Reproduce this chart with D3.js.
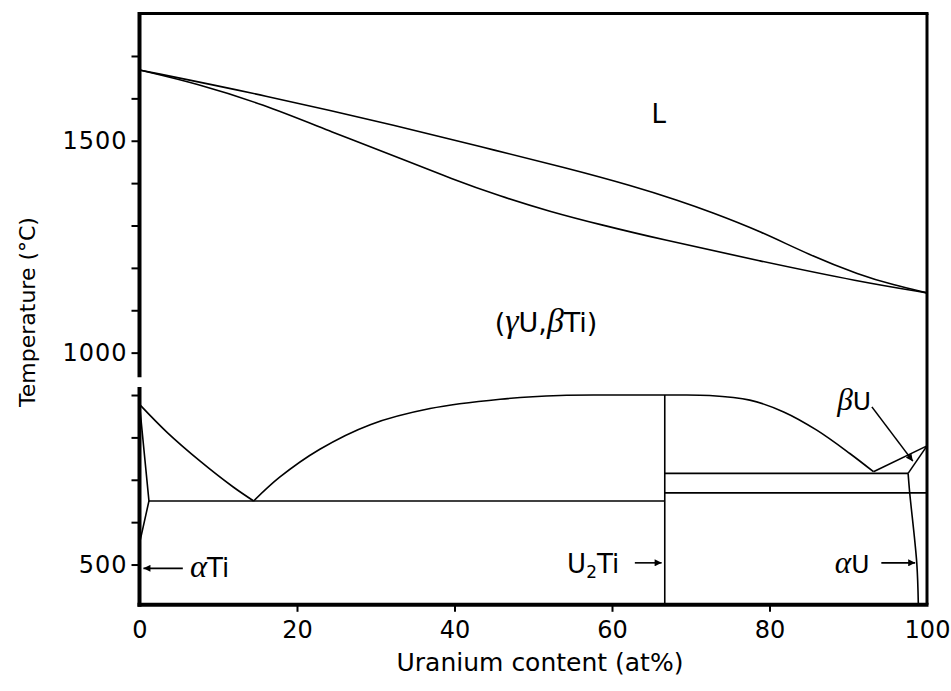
<!DOCTYPE html>
<html><head><meta charset="utf-8">
<script src="https://cdn.jsdelivr.net/npm/d3@7"></script>
<style>
html,body{margin:0;padding:0;background:#fff;}
text{fill:#000;}
</style>
</head><body>
<svg id="chart" width="951" height="691"></svg>
<script>
// ---- data (at% U, °C) ----
const liquidus = [[0,1667],[15.7,1608],[33.5,1532],[43.7,1484],[54.2,1436],[62.7,1393],[68.6,1358],[72.4,1333],[78.8,1287],[85.1,1230],[91.5,1183],[95.7,1160],[100,1141]];
const solidus = [[0,1667],[7.3,1635],[15.7,1586],[24.2,1522],[34.3,1450],[39.4,1412],[45.8,1369],[52.1,1333],[58.5,1302],[66.1,1268],[78.8,1216],[91.5,1167],[100,1141]];
const betaTiTransus = [[0,878],[3.5,812],[7.7,744],[11.9,683],[14.5,650]];
const dome = [[14.5,650],[17.8,706],[22.9,772],[29.3,830],[36.9,868],[45.8,890],[53.4,899],[60,900],[66.7,900],[72.4,899],[77.5,888],[81.8,860],[86,817],[90.2,762],[93.2,719]];
const alphaTiSolvus = [[0,878],[1.2,650],[0,550]];
const tiEutectoid = [[1.2,650],[66.7,650]];
const u2TiLine = [[66.7,900],[66.7,405]];
const betaUEutectoid = [[66.7,715],[97.6,715]];
const alphaUEutectoid = [[66.7,669],[100,669]];
const gammaUBoundary = [[93.2,719],[100,780]];
const betaUBoundary = [[100,780],[97.6,715]];
const alphaUSolvus = [[97.6,715],[97.8,670],[98.7,504],[98.9,405]];
const xTicks = [0,20,40,60,80,100];
const yMinorTicks = [500,600,700,800,900,1000,1100,1200,1300,1400,1500,1600,1700];
const yLabelTicks = [500,1000,1500];
// arrows: [from, to]
const arrows = [
  [[5.5,491],[0.5,491]],
  [[62.9,504],[66.3,504]],
  [[94.2,504],[98.5,504]],
  [[93.0,872],[98.2,744]]
];

const svg = d3.select("#chart");
const x = d3.scaleLinear().domain([0,100]).range([139.5,927]);
const y = d3.scaleLinear().domain([405,1800]).range([604.8,13.6]);

const sans = "'DejaVu Sans', 'Liberation Sans', sans-serif";
const serif = "'Liberation Serif', 'DejaVu Serif', serif";

svg.append("defs").append("marker")
  .attr("id","ah").attr("viewBox","0 0 10 10").attr("refX",10).attr("refY",5)
  .attr("markerWidth",9).attr("markerHeight",7).attr("markerUnits","userSpaceOnUse")
  .attr("orient","auto")
  .append("path").attr("d","M0,0 L10,5 L0,10 z").attr("fill","#000");

const lineSmooth = d3.line().x(d=>x(d[0])).y(d=>y(d[1])).curve(d3.curveMonotoneX);
const lineBasis = d3.line().x(d=>x(d[0])).y(d=>y(d[1])).curve(d3.curveBasis);
const lineCR = d3.line().x(d=>x(d[0])).y(d=>y(d[1])).curve(d3.curveCatmullRom.alpha(0.5));
const lineStraight = d3.line().x(d=>x(d[0])).y(d=>y(d[1]));

const g = svg.append("g").attr("fill","none").attr("stroke","#000").attr("stroke-width",1.6);
g.append("path").attr("d",lineBasis(liquidus));
g.append("path").attr("d",lineBasis(solidus));
g.append("path").attr("d",lineCR(betaTiTransus));
g.append("path").attr("d",lineCR(dome));
g.append("path").attr("d",lineCR(alphaUSolvus));
[alphaTiSolvus,tiEutectoid,u2TiLine,betaUEutectoid,alphaUEutectoid,gammaUBoundary,betaUBoundary]
  .forEach(s=>g.append("path").attr("d",lineStraight(s)));

// arrows
arrows.forEach(a=>{
  svg.append("line").attr("x1",x(a[0][0])).attr("y1",y(a[0][1]))
    .attr("x2",x(a[1][0])).attr("y2",y(a[1][1]))
    .attr("stroke","#000").attr("stroke-width",1.6).attr("marker-end","url(#ah)");
});

// frame
const fr = svg.append("g").attr("stroke","#000").attr("fill","none");
const x0=x(0), x1=x(100), yT=y(1800), yB=y(405);
fr.append("line").attr("x1",x0-1).attr("x2",x1+1.5).attr("y1",yT).attr("y2",yT).attr("stroke-width",3);
fr.append("line").attr("x1",x1).attr("x2",x1).attr("y1",yT).attr("y2",yB).attr("stroke-width",3);
fr.append("line").attr("x1",x0-2).attr("x2",x1+1.5).attr("y1",yB).attr("y2",yB).attr("stroke-width",4);
fr.append("line").attr("x1",x0).attr("x2",x0).attr("y1",yT-1.5).attr("y2",y(942)).attr("stroke-width",4);
fr.append("line").attr("x1",x0).attr("x2",x0).attr("y1",y(919)).attr("y2",yB+2).attr("stroke-width",4);

// y axis
const yAxis = d3.axisLeft(y).tickValues(yMinorTicks).tickSize(7).tickPadding(4)
  .tickFormat(d=>yLabelTicks.includes(d)?String(d):"");
const ya = svg.append("g").attr("transform",`translate(${x0-1},0)`).call(yAxis);
ya.select(".domain").remove();
ya.selectAll(".tick line").attr("stroke","#000").attr("stroke-width",2);
ya.selectAll(".tick text").attr("font-family",sans).attr("font-size",24).attr("fill","#000")
  .attr("letter-spacing",1);

// x axis
const xAxis = d3.axisBottom(x).tickValues(xTicks).tickSize(6).tickPadding(9).tickFormat(d=>String(d));
const xa = svg.append("g").attr("transform",`translate(0,${yB+1})`).call(xAxis);
xa.select(".domain").remove();
xa.selectAll(".tick line").attr("stroke","#000").attr("stroke-width",2)
  .attr("display",d=>(d===0||d===100)?"none":null);
xa.selectAll(".tick text").attr("font-family",sans).attr("font-size",24).attr("fill","#000");

// axis titles
svg.append("text").attr("x",540).attr("y",671).attr("text-anchor","middle")
  .attr("font-family",sans).attr("font-size",25).text("Uranium content (at%)");
svg.append("text").attr("transform",`translate(35,312) rotate(-90)`).attr("text-anchor","middle")
  .attr("font-family",sans).attr("font-size",22).text("Temperature (°C)");

// region labels
function label(px, T, size, parts){
  const t = svg.append("text").attr("x",x(px)).attr("y",y(T)).attr("font-size",size);
  parts.forEach(p=>{
    const s = t.append("tspan").text(p[0]);
    if(p[1]==="g"){ s.attr("font-family",serif).attr("font-style","italic").attr("font-size",size*1.25); }
    else if(p[1]==="sub"){ s.attr("font-family",sans).attr("font-size",size*0.65).attr("dy",5); }
    else if(p[1]==="after"){ s.attr("font-family",sans).attr("dy",-5); }
    else { s.attr("font-family",sans); }
  });
  return t;
}
label(65.0,1542,26,[["L"]]);
label(45.1,1049,27,[["(",""],["γ","g"],["U,",""],["β","g"],["Ti)",""]]);
label(88.6,865,25,[["β","g"],["U",""]]);
label(88.3,480,25,[["α","g"],["U",""]]);
label(6.4,471,26,[["α","g"],["Ti",""]]);
label(54.3,480,26,[["U",""],["2","sub"],["Ti","after"]]);
</script>
</body></html>
